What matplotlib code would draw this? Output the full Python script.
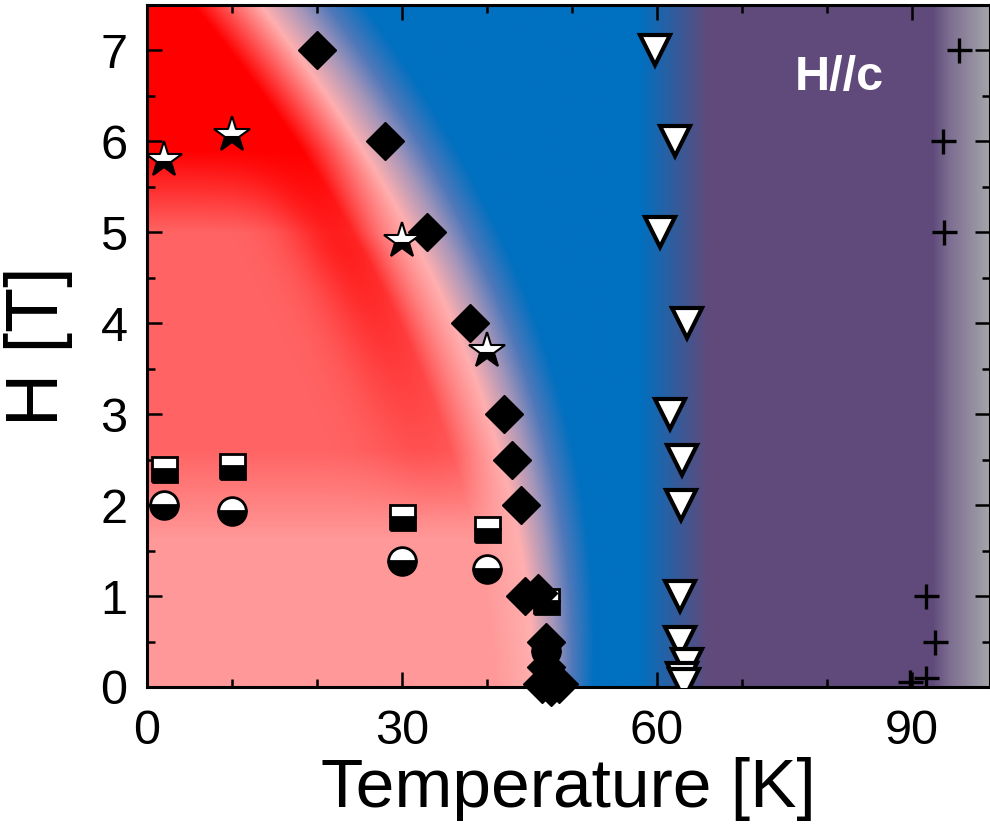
import numpy as np
import matplotlib
matplotlib.use('Agg')
import matplotlib.pyplot as plt
from matplotlib.ticker import MultipleLocator

plt.rcParams['font.family'] = ['Liberation Sans', 'DejaVu Sans']

# ---- data ----
dia_T = [20, 28, 33, 38, 42, 43, 44, 44.5, 46, 47, 47, 47.5, 46.5, 48.5, 47.5]
dia_H = [7.0, 6.0, 5.0, 4.0, 3.0, 2.5, 2.0, 1.0, 1.03, 0.5, 0.22, 0.1, 0.03, 0.03, 0.0]

star_T = [2, 10, 30, 40]
star_H = [5.8, 6.07, 4.9, 3.7]

sq_T = [2, 10, 30, 40, 47]
sq_H = [2.4, 2.43, 1.87, 1.74, 0.95]

circ_T = [2, 10, 30, 40, 47]
circ_H = [2.0, 1.94, 1.39, 1.3, 0.4]

tri_T = [59.8, 62.1, 60.4, 63.6, 61.5, 62.9, 62.8, 62.7, 62.7, 63.6, 63.0, 63.2]
tri_H = [7.0, 6.0, 5.0, 4.0, 3.0, 2.5, 2.0, 1.0, 0.5, 0.25, 0.1, 0.03]

cross_T = [95.6, 93.7, 93.8, 91.7, 92.7, 91.7, 89.8]
cross_H = [7.0, 6.0, 5.0, 1.0, 0.5, 0.1, 0.05]

# background colour stops
red_H = [0, 1.6, 2.6, 5.0, 5.9]
red_g = [153, 153, 100, 100, 0]
edge_s = [-6, -1.5, 1, 3, 5.5]
edge_rgb = [(255, 175, 175), (165, 150, 185), (80, 120, 185), (0, 112, 192)]
right_T = [0, 58, 66, 92.5, 94.5, 99.2]
right_rgb = [(0, 112, 192), (0, 112, 192), (96, 74, 123), (96, 74, 123),
             (125, 110, 145), (165, 165, 170)]

Tmax, Hmax = 99.2, 7.5

# ---- background image ----
T = np.linspace(0, Tmax, 1000)
H = np.linspace(0, Hmax, 760)
TT, HH = np.meshgrid(T, H)
Tc = 47 * (1 - (HH / 9.23) ** 2)
s = (TT - Tc) / (1 + 0.1 * HH)

g = np.interp(HH, red_H, red_g)
ridge = np.exp(-((TT - (Tc - 11)) / 6) ** 2) * np.clip((HH - 1.8) / 3, 0, 1)
g = g * (1 - 0.7 * ridge)
field = np.stack([np.full_like(g, 255), g, g], axis=-1)

# red field -> pink -> lilac -> blue
f = np.clip((s - edge_s[0]) / (edge_s[1] - edge_s[0]), 0, 1)[..., None]
img = field * (1 - f) + np.array(edge_rgb[0]) * f
for i in range(1, len(edge_rgb)):
    f = np.clip((s - edge_s[i]) / (edge_s[i + 1] - edge_s[i]), 0, 1)[..., None]
    img = np.where(s[..., None] > edge_s[i],
                   np.array(edge_rgb[i - 1]) * (1 - f) + np.array(edge_rgb[i]) * f, img)

rc = np.stack([np.interp(TT, right_T, [c[k] for c in right_rgb]) for k in range(3)], axis=-1)
img = np.where(s[..., None] >= edge_s[-1], rc, img)
img = np.clip(img / 255.0, 0, 1)

# ---- figure ----
fig = plt.figure(figsize=(9.9, 8.34), dpi=100)
ax = fig.add_axes([147 / 990, 147 / 834, 843 / 990, 682 / 834])
ax.imshow(img, extent=[0, Tmax, 0, Hmax], origin='lower', aspect='auto',
          interpolation='bilinear', zorder=0)

ax.plot(sq_T, sq_H, 's', ms=18, mew=2, mec='k', mfc='k', mfcalt='w',
        fillstyle='bottom', zorder=3)
ax.plot(circ_T, circ_H, 'o', ms=20, mew=2, mec='k', mfc='k', mfcalt='w',
        fillstyle='bottom', zorder=3)
ax.plot(dia_T, dia_H, 'D', ms=19, mew=1, mec='k', mfc='k', zorder=4, clip_on=False)
ax.plot(star_T, star_H, '*', ms=27, mew=1.5, mec='k', mfc='k', mfcalt='w',
        fillstyle='bottom', zorder=5)
ax.plot(tri_T, tri_H, 'v', ms=22, mew=3, mec='k', mfc='w', zorder=4)
ax.plot(cross_T, cross_H, '+', ms=18, mew=2.4, color='k', zorder=4)

ax.text(81.5, 6.7, 'H//c', color='w', fontsize=35, fontweight='bold',
        ha='center', va='center')

ax.set_xlim(0, Tmax)
ax.set_ylim(0, Hmax)
ax.xaxis.set_major_locator(MultipleLocator(30))
ax.xaxis.set_minor_locator(MultipleLocator(10))
ax.yaxis.set_major_locator(MultipleLocator(1))
ax.yaxis.set_minor_locator(MultipleLocator(0.5))
ax.tick_params(which='both', direction='in', top=True, right=True, width=1.8,
               labelsize=35)
ax.tick_params(which='major', length=11)
ax.tick_params(which='minor', length=6)
ax.tick_params(axis='x', pad=16)
ax.tick_params(axis='y', pad=14)
for sp in ax.spines.values():
    sp.set_linewidth(2.2)

ax.set_xlabel('Temperature [K]', fontsize=50, labelpad=2)
ax.set_ylabel('H [T]', fontsize=53, labelpad=20)

fig.savefig('out.png', dpi=100)
